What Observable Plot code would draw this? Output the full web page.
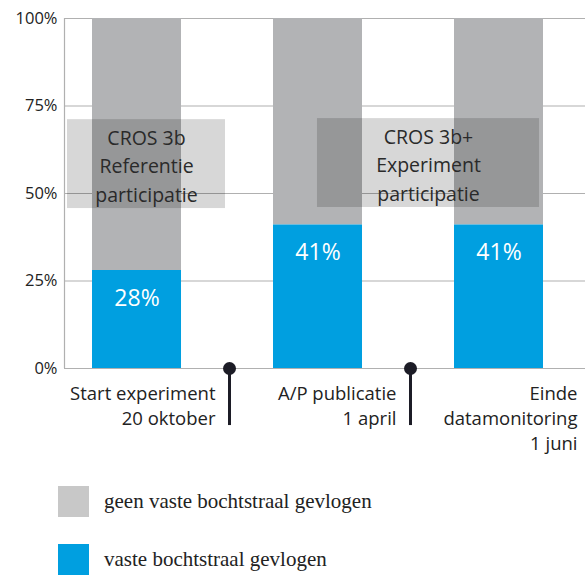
<!DOCTYPE html>
<html>
<head>
<meta charset="utf-8">
<script src="https://cdn.jsdelivr.net/npm/d3@7"></script>
<script src="https://cdn.jsdelivr.net/npm/@observablehq/plot@0.6"></script>
<style>
  html, body { margin: 0; padding: 0; background: #fff; }
  #chart svg { overflow: visible; display: block; }
  .legend { font-family: "Liberation Serif", "DejaVu Serif", serif; font-size: 21px; color: #222; line-height: 1.1; }
  .legend .row { position: absolute; left: 58px; display: flex; align-items: center; }
  .legend .sw { width: 31px; height: 31px; margin-right: 15px; }
</style>
</head>
<body>
<div id="chart"></div>
<div class="legend" id="legend"></div>
<script>
// ---- data ----
const periods = ["Referentie", "Experiment", "Na experiment"];
const periodIndex = [0, 1, 2];
const blueValues = [28, 41, 41];           // vaste bochtstraal gevlogen (%)
const milestoneLabels = ["Start experiment\n20 oktober", "A/P publicatie\n1 april", "Einde\ndatamonitoring\n1 juni"];
const milestonePos = [0.5, 1.5, 2.5];
const yTicks = [0, 25, 50, 75, 100];
const annotationLabels = ["CROS 3b\nReferentie\nparticipatie", "CROS 3b+\nExperiment\nparticipatie"];
const annotationX1 = [-0.384, 0.997];
const annotationX2 = [0.489, 2.224];
const annotationY1 = [45.7, 46];
const annotationY2 = [71.1, 71.4];
const legendLabels = ["geen vaste bochtstraal gevlogen", "vaste bochtstraal gevlogen"];
const legendColors = ["#c8c8c8", "#009fe0"];

const barGrey = "#b2b3b5";
const blue = "#009fe0";
const dark = "#1c1c26";

const rows = periodIndex.map((i, k) => ({ i, period: periods[k], v: blueValues[k] }));
const milestones = milestonePos.map((x, k) => ({ x, label: milestoneLabels[k] }));
const annotations = annotationLabels.map((t, k) => ({
  t, x1: annotationX1[k], x2: annotationX2[k], y1: annotationY1[k], y2: annotationY2[k]
}));

const font = "'Open Sans', 'Noto Sans', sans-serif";

const chart = Plot.plot({
  width: 585,
  height: 470,
  marginTop: 18,
  marginBottom: 102,
  marginLeft: 64,
  marginRight: 0,
  style: { fontFamily: font, background: "#fff", color: "#222" },
  x: { type: "linear", domain: [-0.4006, 2.4779], axis: null },
  y: { domain: [0, 100], ticks: yTicks, tickFormat: d => d + "%", tickSize: 0, tickPadding: 7, fontSize: 16, label: null },
  marks: [
    Plot.ruleY(yTicks, { stroke: "#b0b0b0", strokeWidth: 1.2 }),
    Plot.ruleX([-0.4006], { y1: 0, y2: 100, stroke: "#b0b0b0", strokeWidth: 1.2 }),
    Plot.axisY({ ticks: yTicks, tickFormat: d => d + "%", tickSize: 0, tickPadding: 7, fontSize: 16.5, fill: "#222", label: null }),
    Plot.rectY(rows, { x1: d => d.i - 0.5, x2: d => d.i + 0.5, y1: d => d.v, y2: 100, fill: barGrey, insetLeft: 46, insetRight: 46 }),
    Plot.rectY(rows, { x1: d => d.i - 0.5, x2: d => d.i + 0.5, y1: 0, y2: d => d.v, fill: blue, insetLeft: 46, insetRight: 46 }),
    Plot.rect(annotations, { x1: "x1", x2: "x2", y1: "y1", y2: "y2", fill: "#000", fillOpacity: 0.155 }),
    Plot.text(annotations, { x: d => (d.x1 + d.x2) / 2, y: d => (d.y1 + d.y2) / 2, text: "t", fontSize: 19.5, lineHeight: 1.46, fill: "#2a2a2a", dy: 0 }),
    Plot.text(rows, { x: "i", y: "v", text: d => d.v + "%", dy: 28, fill: "#fff", fontSize: 23 }),
    Plot.ruleX(milestones, { x: "x", y1: 0, y2: -16.3, stroke: dark, strokeWidth: 3, dx: 2, clip: false }),
    Plot.dot(milestones, { x: "x", y: 0, r: 6.5, fill: dark, dx: 2, clip: false }),
    Plot.text(milestones, { x: "x", y: 0, text: "label", textAnchor: "end", lineAnchor: "top", dx: -12, dy: 14, fontSize: 18.5, lineHeight: 1.34, fill: "#222" })
  ]
});
document.getElementById("chart").appendChild(chart);

const legend = document.getElementById("legend");
const legendTops = [486, 544];
legendLabels.forEach((label, k) => {
  const row = document.createElement("div");
  row.className = "row";
  row.style.top = legendTops[k] + "px";
  const sw = document.createElement("div");
  sw.className = "sw";
  sw.style.background = legendColors[k];
  const tx = document.createElement("span");
  tx.textContent = label;
  row.appendChild(sw);
  row.appendChild(tx);
  legend.appendChild(row);
});
</script>
</body>
</html>
